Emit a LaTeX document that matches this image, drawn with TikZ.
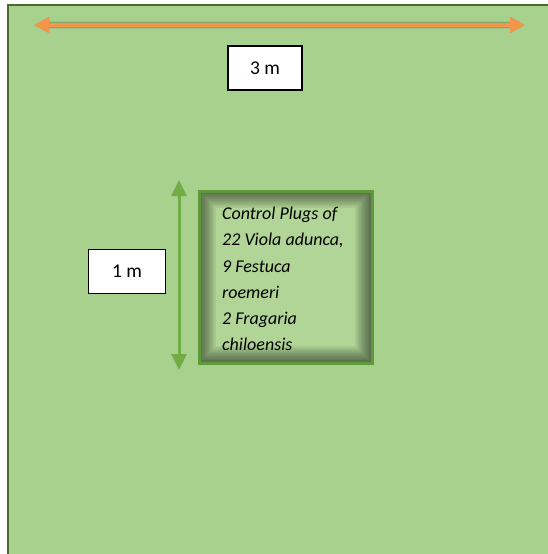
\documentclass[tikz,border=0pt]{standalone}
\usepackage{fontspec}
\setmainfont{Carlito}
\usetikzlibrary{arrows.meta}
\definecolor{fieldfill}{HTML}{A9D18E}
\definecolor{fieldline}{HTML}{4A6B2F}
\definecolor{orangearrow}{HTML}{F4954A}
\definecolor{greenarrow}{HTML}{70AD47}
\definecolor{plotline}{HTML}{5E9A3A}
\newcommand{\labelfont}{\fontsize{19.5}{22}\selectfont}
\newcommand{\plotfont}{\fontsize{18}{26.2}\selectfont\itshape}
\tikzset{
  labelbox/.style={draw=black, line width=1.3pt, fill=white, minimum width=74pt, minimum height=44pt, inner sep=0pt, font={\labelfont}},
  dimarrow/.style={{Triangle[width=15pt,length=15pt]}-{Triangle[width=15pt,length=15pt]}},
}
\begin{document}
\begin{tikzpicture}[x=1pt,y=-1pt]
\useasboundingbox (0,0) rectangle (548,554);
\clip (0,0) rectangle (548,554);
% field
\draw[fill=fieldfill, draw=fieldline, line width=2pt] (8,5) rectangle (570,580);
% horizontal dimension arrow
\coordinate (hl) at (34,25);
\coordinate (hr) at (525,25);
\foreach \o/\a in {3/0.06,2/0.08,1/0.08}{
  \draw[black, opacity=\a, line width=4.5pt+\o pt, dimarrow, shift={(1pt,3pt)}] (hl) -- (hr);
}
\draw[orangearrow, line width=4.5pt, dimarrow] (hl) -- (hr);
% 3 m label
\node[labelbox] (three) at (265,68) {3 m};
% vertical dimension arrow
\coordinate (vt) at (179,180);
\coordinate (vb) at (179,370);
\draw[greenarrow, line width=3pt, {Triangle[width=15pt,length=16pt]}-{Triangle[width=15pt,length=16pt]}] (vt) -- (vb);
% 1 m label
\node[labelbox, minimum width=77pt] (one) at (127,271.5) {1 m};
% plot with inner shadow
\fill[fieldfill!92!white] (199,191) rectangle (372,363);
\foreach \i in {0,...,11}{
  \fill[black, opacity=0.05, even odd rule] (199,191) rectangle (372,363)
    (199+\i*1.4+1.4,191+\i*1.4+1.4) rectangle (372-\i*1.4-1.4,363-\i*1.4-1.4);
}
\draw[plotline, line width=3pt] (199,191) rectangle (372,363);
\node[anchor=north west, align=left, inner sep=0pt, font={\plotfont}] (plot) at (222,207)
  {Control Plugs of\\22 Viola adunca,\\9 Festuca\\roemeri\\2 Fragaria\\chiloensis};
\end{tikzpicture}
\end{document}
